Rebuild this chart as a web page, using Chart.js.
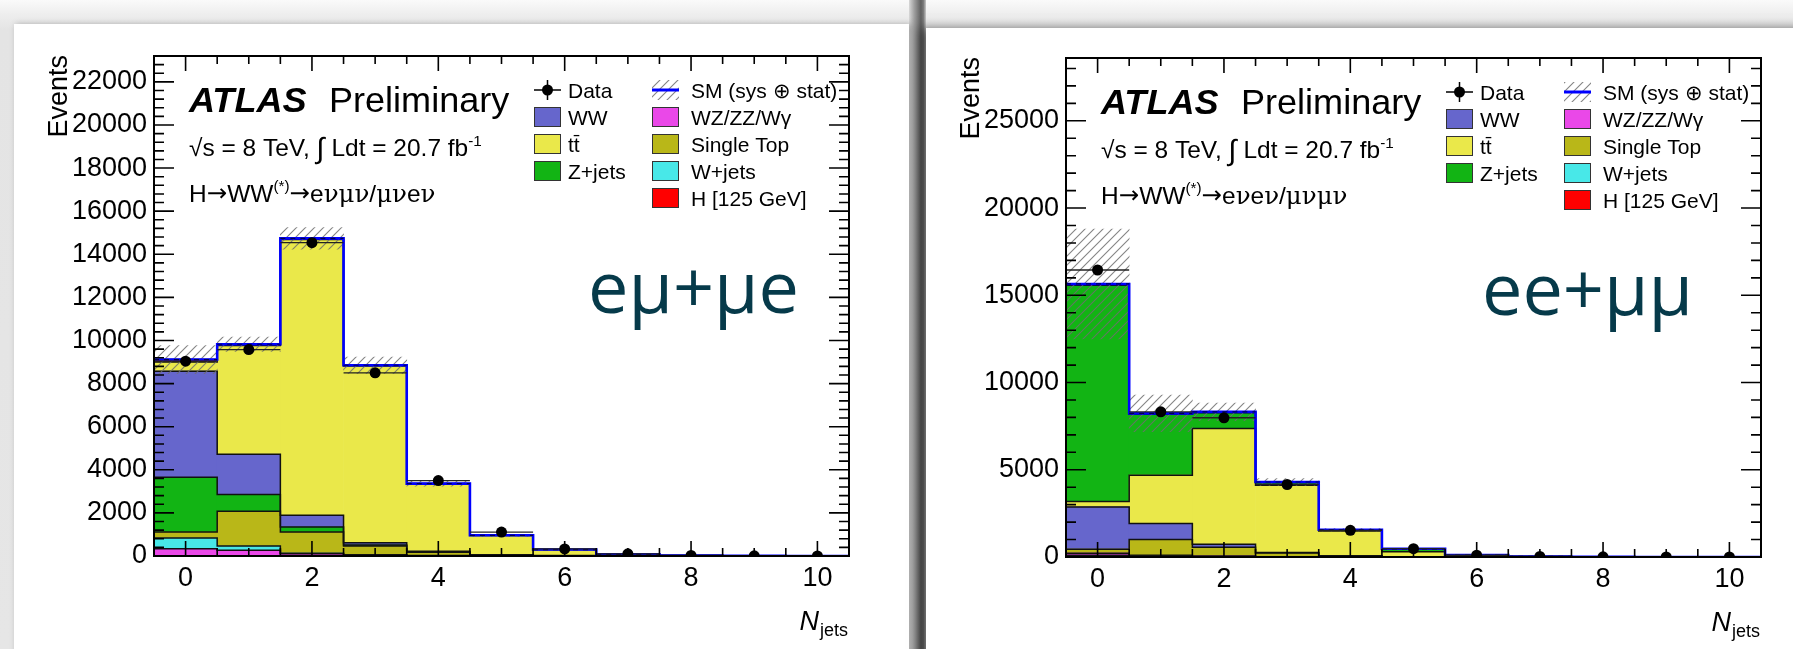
<!DOCTYPE html>
<html>
<head>
<meta charset="utf-8">
<script src="https://cdn.jsdelivr.net/npm/chart.js@4.4.1/dist/chart.umd.min.js"></script>
<style>
html,body{margin:0;padding:0;width:1793px;height:649px;overflow:hidden;}
body{background:linear-gradient(to bottom,#fafafa 0px,#eeeeee 14px,#e4e4e4 30px,#e6e6e6 100%);position:relative;}
.card{position:absolute;background:#fff;}
#card1{left:14px;top:24px;width:895px;height:660px;box-shadow:2px 0 6px rgba(0,0,0,0.25);}
#card2{left:926px;top:28px;width:900px;height:660px;box-shadow:-6px 0 10px rgba(0,0,0,0.5);}
#gap{position:absolute;left:909px;top:0;width:17px;height:649px;background:linear-gradient(to right,#d8d8d8 0%,#a0a0a0 30%,#606060 70%,#7a7a7a 85%,#c8c8c8 100%);}
canvas{position:absolute;left:0;top:0;}
</style>
</head>
<body>
<div id="gap"></div>
<div class="card" id="card1"><canvas id="c1" width="895" height="625"></canvas></div>
<div class="card" id="card2"><canvas id="c2" width="867" height="621"></canvas></div>
<script>
// ---------------- data ----------------
const bins = [0, 1, 2, 3, 4, 5, 6, 7, 8, 9, 10];
const xTickValues = [0, 2, 4, 6, 8, 10];

// e mu + mu e channel
const emuYTicks = [0, 2000, 4000, 6000, 8000, 10000, 12000, 14000, 16000, 18000, 20000, 22000];
const emuWZ    = [340, 265, 100, 40, 15, 5, 1, 0.5, 0.2, 0.1, 0];
const emuWjets = [495, 200, 30, 15, 5, 2, 1, 0.5, 0.2, 0, 0];
const emuTop   = [280, 1610, 985, 410, 150, 40, 12, 4, 1, 0.3, 0.1];
const emuZ     = [2535, 775, 230, 40, 15, 5, 3, 1, 0.3, 0.1, 0];
const emuWW    = [4925, 1870, 545, 115, 30, 8, 3, 1, 0.3, 0.1, 0];
const emuTT    = [430, 5045, 12800, 8200, 3130, 895, 278, 72, 18, 5, 1.5];
const emuH     = [110, 60, 50, 30, 15, 5, 2, 1, 0, 0, 0];
const emuData  = [9040, 9580, 14540, 8500, 3500, 1110, 330, 100, 25, 8, 3];
const emuSys   = [650, 330, 500, 380, 120, 50, 20, 8, 3, 1, 0.5];

// ee + mu mu channel
const eeYTicks = [0, 5000, 10000, 15000, 20000, 25000];
const eeWjets = [100, 20, 20, 5, 2, 1, 0.5, 0.2, 0, 0, 0];
const eeWZ    = [120, 80, 40, 15, 5, 1, 0.5, 0.2, 0, 0, 0];
const eeTop   = [230, 900, 500, 210, 60, 15, 3, 1, 0.3, 0.1, 0];
const eeWW    = [2420, 915, 170, 30, 10, 3, 1, 0.3, 0.1, 0, 0];
const eeTT    = [310, 2775, 6640, 3850, 1413, 280, 50, 12, 3, 1, 0.5];
const eeZ     = [12400, 3490, 900, 160, 60, 165, 55, 17, 5, 1, 0.5];
const eeH     = [70, 50, 50, 30, 10, 5, 1, 0.3, 0, 0, 0];
const eeData  = [16450, 8320, 7980, 4155, 1530, 480, 100, 30, 10, 3, 1];
const eeSys   = [3150, 1050, 500, 200, 70, 30, 10, 3, 1, 0.5, 0.2];

const COL = {WW:'#6666cc', TT:'#eae84a', Z:'#12b414', WZ:'#ea48e8', Top:'#b9b718', Wjets:'#48e8e8', H:'#ff0000'};
const legendCol1 = [['data','Data'],['WW','WW'],['TT','tt\u0304'],['Z','Z+jets']];
const legendCol2 = [['sm','SM (sys \u2295 stat)'],['WZ','WZ/ZZ/W\u03b3'],['Top','Single Top'],['Wjets','W+jets'],['H','H [125 GeV]']];
const emuProcess = 'e\u03bd\u03bc\u03bd/\u03bc\u03bde\u03bd';
const eeProcess = 'e\u03bde\u03bd/\u03bc\u03bd\u03bc\u03bd';

const FONT = "'Liberation Sans', Arial, Helvetica, sans-serif";

function hatchPattern(ctx){
  const c = document.createElement('canvas'); c.width = 9; c.height = 9;
  const g = c.getContext('2d');
  g.strokeStyle = 'rgba(110,110,110,0.85)'; g.lineWidth = 1.1;
  g.beginPath();
  g.moveTo(0,9); g.lineTo(9,0);
  g.moveTo(-5,5); g.lineTo(5,-5);
  g.moveTo(4,14); g.lineTo(14,4);
  g.stroke();
  return ctx.createPattern(c,'repeat');
}

function stepPts(vals){
  const pts = [];
  bins.forEach((b,i)=>{ pts.push({x:b-0.5, y:vals[i]}); pts.push({x:b+0.5, y:vals[i]}); });
  return pts;
}

function drawRich(ctx, x, y, parts, sx){
  ctx.save(); ctx.translate(x,y); ctx.scale(sx,1);
  let cx = 0;
  for (const p of parts){
    ctx.font = p.f; ctx.fillText(p.t, cx, p.dy||0);
    cx += ctx.measureText(p.t).width + (p.gap||0);
  }
  ctx.restore();
}

function makeChart(id, P){
  const canvas = document.getElementById(id);
  const ctx = canvas.getContext('2d');
  const pattern = hatchPattern(ctx);
  const cums = []; let prev = bins.map(()=>0);
  P.comps.forEach(c=>{ const cur = prev.map((v,i)=>v + c.values[i]); cums.push({prev, cur, color:c.color}); prev = cur; });
  const total = prev;
  const datasets = [];
  cums.forEach((c,k)=>{
    datasets.push({type:'bar', data: bins.map((b,i)=>({x:b, y:[c.prev[i], c.cur[i]]})),
      backgroundColor:c.color, borderWidth:0, grouped:false, barPercentage:1, categoryPercentage:1, order:20});
  });
  cums.forEach((c,k)=>{
    datasets.push({type:'line', data: stepPts(c.cur), borderColor:'#111', borderWidth:1.5,
      pointRadius:0, fill:false, tension:0, order:6});
  });
  datasets.push({type:'bar', data: bins.map((b,i)=>({x:b, y:[total[i]-P.sys[i], total[i]+P.sys[i]]})),
    backgroundColor:pattern, borderWidth:0, grouped:false, barPercentage:1, categoryPercentage:1, order:4});
  datasets.push({type:'line', data: stepPts(total), borderColor:'#0000ff', borderWidth:2.6,
    pointRadius:0, fill:false, order:3});
  datasets.push({type:'line', data: stepPts(total), borderWidth:1.2, pointRadius:0, fill:false, order:2,
    segment:{borderColor: s => s.p0.parsed.y === s.p1.parsed.y ? 'rgba(0,0,0,0.7)' : 'rgba(0,0,0,0)',
             borderDash: s => [5,5]}});
  const err = [];
  bins.forEach((b,i)=>{ err.push({x:b-0.5,y:P.data[i]}); err.push({x:b+0.5,y:P.data[i]}); err.push({x:b+0.5,y:null}); });
  datasets.push({type:'line', data: err, borderColor:'#222', borderWidth:1.3, pointRadius:0, spanGaps:false, fill:false, order:1});
  datasets.push({type:'line', data: bins.map((b,i)=>({x:b, y:P.data[i]})), showLine:false,
    pointRadius:5.5, pointBackgroundColor:'#000', pointBorderColor:'#000', pointBorderWidth:0, order:0});

  const decor = {
    id:'decor'+id,
    afterDraw(chart){
      const g = chart.ctx, ca = chart.chartArea, xs = chart.scales.x, ys = chart.scales.y;
      const L = ca.left, T = ca.top, R = ca.right, B = ca.bottom;
      g.save();
      g.strokeStyle = '#000'; g.lineWidth = 1.6;
      g.beginPath();
      for (let v = 0; v <= P.yMax + 1e-6; v += P.yMinor){
        const y = ys.getPixelForValue(v);
        const len = P.yTicks.includes(v) ? 20 : 10;
        g.moveTo(L, y); g.lineTo(L+len, y); g.moveTo(R, y); g.lineTo(R-len, y);
      }
      for (let v = -0.5; v <= 10.5 + 1e-6; v += 0.5){
        const x = xs.getPixelForValue(v);
        const len = xTickValues.includes(v) ? 15 : 8;
        g.moveTo(x, B); g.lineTo(x, B-len); g.moveTo(x, T); g.lineTo(x, T+len);
      }
      g.stroke();
      g.lineWidth = 2; g.strokeRect(L, T, R-L, B-T);
      g.fillStyle = '#000';
      // Events
      g.save(); g.translate(L-87, T-1); g.rotate(-Math.PI/2);
      g.font = '27px ' + FONT; g.textAlign = 'right'; g.fillText('Events', 0, 0); g.restore();
      // N_jets
      g.save();
      g.font = 'italic 27px ' + FONT; const wN = g.measureText('N').width;
      g.font = '18px ' + FONT; const wj = g.measureText('jets').width;
      const nx = R - 2 - wj - wN;
      g.font = 'italic 27px ' + FONT; g.fillText('N', nx, B+74);
      g.font = '18px ' + FONT; g.fillText('jets', nx + wN + 1, B+80);
      g.restore();
      // ATLAS label
      g.textBaseline = 'alphabetic';
      drawRich(g, L+35, T+56, [{t:'ATLAS', f:'italic bold 35px '+FONT}], 1.03);
      drawRich(g, L+175, T+56, [{t:'Preliminary', f:'35px '+FONT}], 1.03);
      const f24 = '24px ' + FONT, f15 = '15px ' + FONT, fa = '24px "DejaVu Sans", sans-serif', fg = '24px "DejaVu Serif", serif';
      drawRich(g, L+35, T+100, [{t:'\u221as = 8 TeV, ', f:f24}, {t:'\u222b', f:'29px '+FONT, dy:2}, {t:' Ldt = 20.7 fb', f:f24}, {t:'-1', f:f15, dy:-10}], 1.02);
      const procParts = [{t:'H', f:f24}, {t:'\u2192', f:fa, dy:-1}, {t:'WW', f:f24}, {t:'(*)', f:f15, dy:-11}, {t:'\u2192', f:fa, dy:-1}];
      for (const ch of P.process) procParts.push({t:ch, f: /[\u0370-\u03ff]/.test(ch) ? fg : f24});
      drawRich(g, L+35, T+146, procParts, 1.02);
      // legend
      const rowY = r => T + 34 + 27*r;
      const f21 = '21px ' + FONT;
      function drawItem(key, label, x0, tx, r){
        const cy = rowY(r);
        if (key === 'data'){
          g.beginPath(); g.lineWidth = 1.5;
          g.moveTo(x0, cy); g.lineTo(x0+27, cy); g.moveTo(x0+13.5, cy-10); g.lineTo(x0+13.5, cy+10); g.stroke();
          g.beginPath(); g.arc(x0+13.5, cy, 5.5, 0, Math.PI*2); g.fill();
        } else if (key === 'sm'){
          g.fillStyle = pattern; g.fillRect(x0, cy-10, 27, 20); g.fillStyle = '#000';
          g.beginPath(); g.strokeStyle = '#0000ff'; g.lineWidth = 3; g.moveTo(x0, cy); g.lineTo(x0+27, cy); g.stroke();
          g.strokeStyle = '#000';
        } else {
          g.fillStyle = COL[key]; g.fillRect(x0, cy-10, 27, 20);
          g.lineWidth = 1; g.strokeStyle = '#333'; g.strokeRect(x0+0.5, cy-9.5, 26, 19);
          g.fillStyle = '#000'; g.strokeStyle = '#000';
        }
        drawRich(g, tx, cy+7.5, [{t:label, f:f21}], 1.0);
      }
      legendCol1.forEach((it,r)=>drawItem(it[0], it[1], L+380, L+414, r));
      legendCol2.forEach((it,r)=>drawItem(it[0], it[1], L+498, L+537, r));
      // channel label
      g.fillStyle = '#063a4a'; g.font = '72px "Open Sans", "Noto Sans", sans-serif';
      g.textAlign = 'right'; g.fillText(P.channel, R - P.chanRight, T + 257);
      g.restore();
    }
  };

  return new Chart(canvas, {
    type:'bar',
    data:{datasets},
    options:{
      responsive:false, animation:false, devicePixelRatio:1,
      events:[],
      layout:{padding:{left:0, top:P.padTop, right:P.padRight, bottom:P.padBottom}},
      plugins:{legend:{display:false}, tooltip:{enabled:false}},
      scales:{
        x:{type:'linear', min:-0.5, max:10.5, offset:false, grid:{display:false, drawTicks:false, offset:false}, border:{display:false},
           afterBuildTicks: s => { s.ticks = xTickValues.map(v=>({value:v})); },
           afterFit: s => { s.height = 60; },
           ticks:{font:{size:27, family:FONT}, color:'#000', padding:6, maxRotation:0, autoSkip:false, callback:v=>String(v)}},
        y:{min:0, max:P.yMax, grid:{display:false, drawTicks:false}, border:{display:false},
           afterBuildTicks: s => { s.ticks = P.yTicks.map(v=>({value:v})); },
           afterFit: s => { s.width = 140; },
           ticks:{font:{size:27, family:FONT}, color:'#000', padding:7, autoSkip:false, callback:v=>String(v)}}
      }
    },
    plugins:[decor]
  });
}

makeChart('c1', {
  comps:[{color:COL.WZ, values:emuWZ},{color:COL.Wjets, values:emuWjets},{color:COL.Top, values:emuTop},
         {color:COL.Z, values:emuZ},{color:COL.WW, values:emuWW},{color:COL.TT, values:emuTT},{color:COL.H, values:emuH}],
  data:emuData, sys:emuSys, yMax:23200, yTicks:emuYTicks, yMinor:400,
  padTop:32, padRight:60, padBottom:33, process:emuProcess, channel:'e\u03bc+\u03bce', chanRight:50
});
makeChart('c2', {
  comps:[{color:COL.Wjets, values:eeWjets},{color:COL.WZ, values:eeWZ},{color:COL.Top, values:eeTop},
         {color:COL.WW, values:eeWW},{color:COL.TT, values:eeTT},{color:COL.Z, values:eeZ},{color:COL.H, values:eeH}],
  data:eeData, sys:eeSys, yMax:28600, yTicks:eeYTicks, yMinor:1000,
  padTop:30, padRight:32, padBottom:32, process:eeProcess, channel:'ee+\u03bc\u03bc', chanRight:68
});
</script>
</body>
</html>
